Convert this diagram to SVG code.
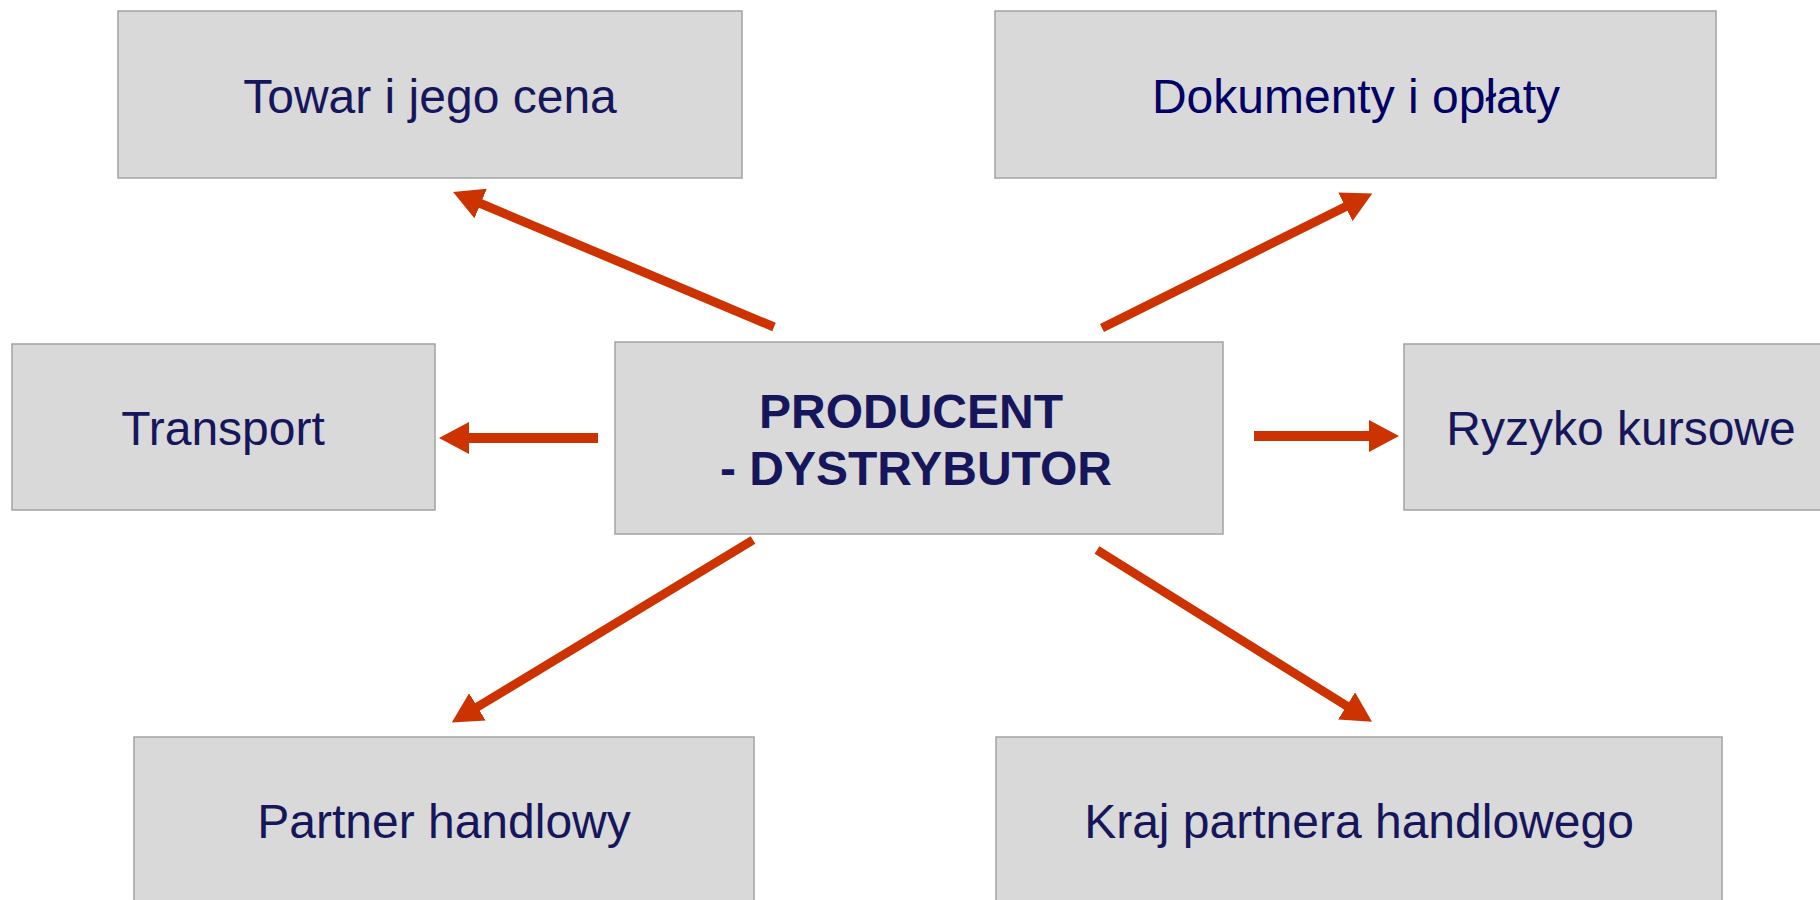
<svg xmlns="http://www.w3.org/2000/svg" width="1820" height="900" viewBox="0 0 1820 900">
  <style>
    .box { fill: #d9d9d9; stroke: #a3a3a3; stroke-width: 1.5; }
    .lbl { font-family: "Liberation Sans", Arial, sans-serif; font-size: 48px; fill: #16165c; text-anchor: middle; }
    .bold { font-weight: bold; font-size: 48px; }
    .conn { stroke: #cc3300; stroke-width: 9; fill: none; marker-end: url(#ah); }
  </style>
  <defs>
    <marker id="ah" viewBox="0 0 30 32" refX="4" refY="16" markerWidth="30" markerHeight="32" markerUnits="userSpaceOnUse" orient="auto">
      <path d="M0,0 L30,16 L0,32 z" fill="#cc3300"/>
    </marker>
  </defs>
  <rect width="1820" height="900" fill="#ffffff"/>

  <g id="node-towar">
    <rect class="box" x="118" y="11" width="624" height="167"/>
    <text class="lbl" x="430" y="113">Towar i jego cena</text>
  </g>
  <g id="node-dokumenty">
    <rect class="box" x="995" y="11" width="721" height="167"/>
    <text class="lbl" x="1356" y="113" style="fill:#000066">Dokumenty i opłaty</text>
  </g>
  <g id="node-transport">
    <rect class="box" x="12" y="344" width="423" height="166"/>
    <text class="lbl" x="223" y="445">Transport</text>
  </g>
  <g id="node-center">
    <rect class="box" x="615" y="342" width="608" height="192"/>
    <text class="lbl bold" x="911" y="428">PRODUCENT</text>
    <text class="lbl bold" x="916" y="485">- DYSTRYBUTOR</text>
  </g>
  <g id="node-ryzyko">
    <rect class="box" x="1404" y="344" width="434" height="166"/>
    <text class="lbl" x="1621" y="445">Ryzyko kursowe</text>
  </g>
  <g id="node-partner">
    <rect class="box" x="134" y="737" width="620" height="180"/>
    <text class="lbl" x="444" y="838">Partner handlowy</text>
  </g>
  <g id="node-kraj">
    <rect class="box" x="996" y="737" width="726" height="180"/>
    <text class="lbl" x="1359" y="838">Kraj partnera handlowego</text>
  </g>

  <g id="connectors">
    <line class="conn" x1="774" y1="327" x2="477" y2="202"/>
    <line class="conn" x1="1102" y1="328" x2="1349" y2="205"/>
    <line class="conn" x1="598" y1="438" x2="465" y2="438" style="stroke-width:10"/>
    <line class="conn" x1="1254" y1="436" x2="1373" y2="436" style="stroke-width:10"/>
    <line class="conn" x1="753" y1="540" x2="474" y2="709"/>
    <line class="conn" x1="1097" y1="550" x2="1350" y2="708"/>
  </g>
</svg>
